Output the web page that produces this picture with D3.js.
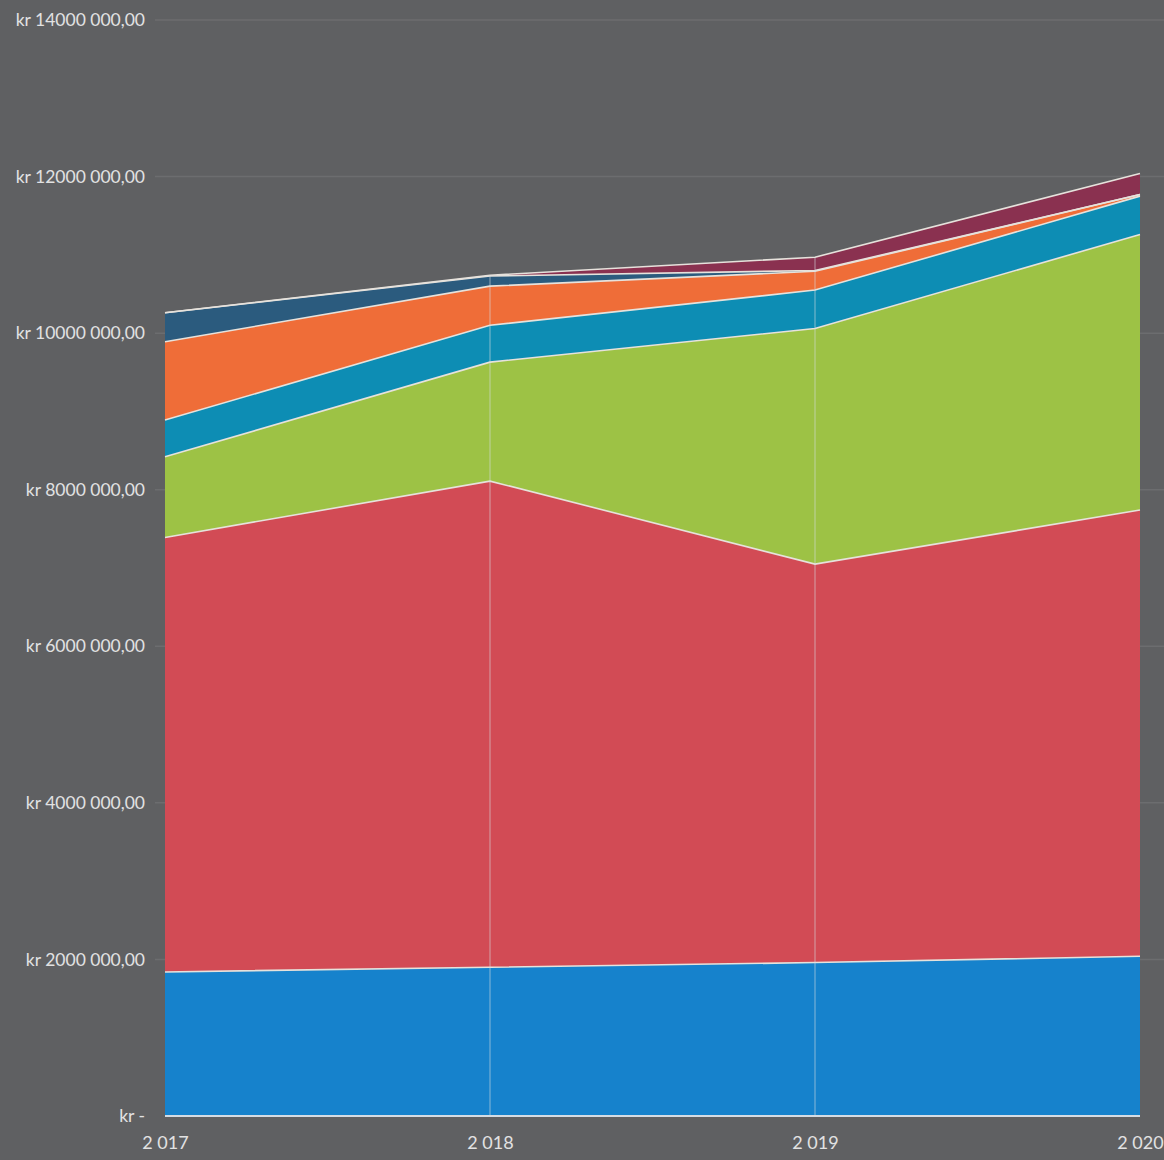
<!DOCTYPE html>
<html>
<head>
<meta charset="utf-8">
<script src="https://cdn.jsdelivr.net/npm/d3@7"></script>
<style>
  body { margin: 0; background: #5f6062; }
  svg { display: block; }
  .tick text { font-family: Lato, "Open Sans", sans-serif; fill: #e2e2e2; }
</style>
</head>
<body>
<div id="chart"></div>
<script>
// Data (values in kr)
var years = [2017, 2018, 2019, 2020];
var yearLabels = ["2 017", "2 018", "2 019", "2 020"];
var seriesNames = ["s1", "s2", "s3", "s4", "s5", "s6", "s7"];
var s1 = [1840000, 1900000, 1960000, 2040000];
var s2 = [5550000, 6210000, 5090000, 5700000];
var s3 = [1030000, 1520000, 3010000, 3520000];
var s4 = [470000, 470000, 490000, 490000];
var s5 = [1000000, 500000, 240000, 20000];
var s6 = [370000, 130000, 10000, 0];
var s7 = [0, 10000, 170000, 270000];
var yTicks = [0, 2000000, 4000000, 6000000, 8000000, 10000000, 12000000, 14000000];
var yTickLabels = ["kr -", "kr 2000 000,00", "kr 4000 000,00", "kr 6000 000,00",
                   "kr 8000 000,00", "kr 10000 000,00", "kr 12000 000,00", "kr 14000 000,00"];
var colors = ["#1682cc", "#d24b55", "#9dc245", "#0d8db4", "#ef6d38", "#2b5b7e", "#8a3150"];

var svgWidth = 1164;
var svgHeight = 1160;
var margin = { top: 20, right: 24, bottom: 44, left: 165 };
var width = svgWidth - margin.left - margin.right;
var height = svgHeight - margin.top - margin.bottom;

var svg = d3.select("#chart")
  .append("svg")
  .attr("width", svgWidth)
  .attr("height", svgHeight)
  .append("g")
  .attr("transform", "translate(" + margin.left + "," + margin.top + ")");

// build rows for the stack
var allSeries = [s1, s2, s3, s4, s5, s6, s7];
var rows = years.map(function(y, i) {
  var row = { year: y };
  seriesNames.forEach(function(n, j) { row[n] = allSeries[j][i]; });
  return row;
});

var stacked = d3.stack().keys(seriesNames)(rows);

var xScale = d3.scaleLinear().domain([2017, 2020]).range([0, width]);
var yScale = d3.scaleLinear().domain([0, 14000000]).range([height, 0]);

// faint gridlines
svg.append("g")
  .selectAll("line")
  .data(yTicks.slice(1))
  .enter().append("line")
    .attr("x1", -10)
    .attr("x2", width + 24)
    .attr("y1", function(d) { return yScale(d); })
    .attr("y2", function(d) { return yScale(d); })
    .attr("stroke", "#6c6d6f")
    .attr("stroke-width", 1.5);

var area = d3.area()
  .x(function(d) { return xScale(d.data.year); })
  .y0(function(d) { return yScale(d[0]); })
  .y1(function(d) { return yScale(d[1]); });

svg.append("g")
  .selectAll("path")
  .data(stacked)
  .enter().append("path")
    .attr("d", area)
    .attr("fill", function(d, i) { return colors[i]; });

// thin light separators on top of each layer
var topLine = d3.line()
  .x(function(d) { return xScale(d.data.year); })
  .y(function(d) { return yScale(d[1]); });

svg.append("g")
  .selectAll("path")
  .data(stacked)
  .enter().append("path")
    .attr("d", topLine)
    .attr("fill", "none")
    .attr("stroke", "#e6e2dc")
    .attr("stroke-width", 1.6);

// faint vertical lines at the inner years
svg.append("g")
  .selectAll("line")
  .data(years.slice(1, 3))
  .enter().append("line")
    .attr("x1", function(d) { return xScale(d); })
    .attr("x2", function(d) { return xScale(d); })
    .attr("y1", yScale(0))
    .attr("y2", function(d, i) { return yScale(d3.sum(allSeries, function(s) { return s[i + 1]; })); })
    .attr("stroke", "#d8dde2")
    .attr("stroke-opacity", 0.4)
    .attr("stroke-width", 1.5);

// baseline
svg.append("line")
  .attr("x1", 0).attr("x2", width)
  .attr("y1", yScale(0)).attr("y2", yScale(0))
  .attr("stroke", "#d4dce4")
  .attr("stroke-width", 2);

// axes
var leftAxis = d3.axisLeft(yScale)
  .tickValues(yTicks)
  .tickSize(0)
  .tickPadding(20)
  .tickFormat(function(d, i) { return yTickLabels[i]; });

var yAxisG = svg.append("g").call(leftAxis);
yAxisG.select(".domain").remove();
yAxisG.selectAll("text").style("font-size", "17.5px");

var bottomAxis = d3.axisBottom(xScale)
  .tickValues(years)
  .tickSize(0)
  .tickPadding(20)
  .tickFormat(function(d, i) { return yearLabels[i]; });

var xAxisG = svg.append("g")
  .attr("transform", "translate(0," + height + ")")
  .call(bottomAxis);
xAxisG.select(".domain").remove();
xAxisG.selectAll("text").style("font-size", "18px");
</script>
</body>
</html>
